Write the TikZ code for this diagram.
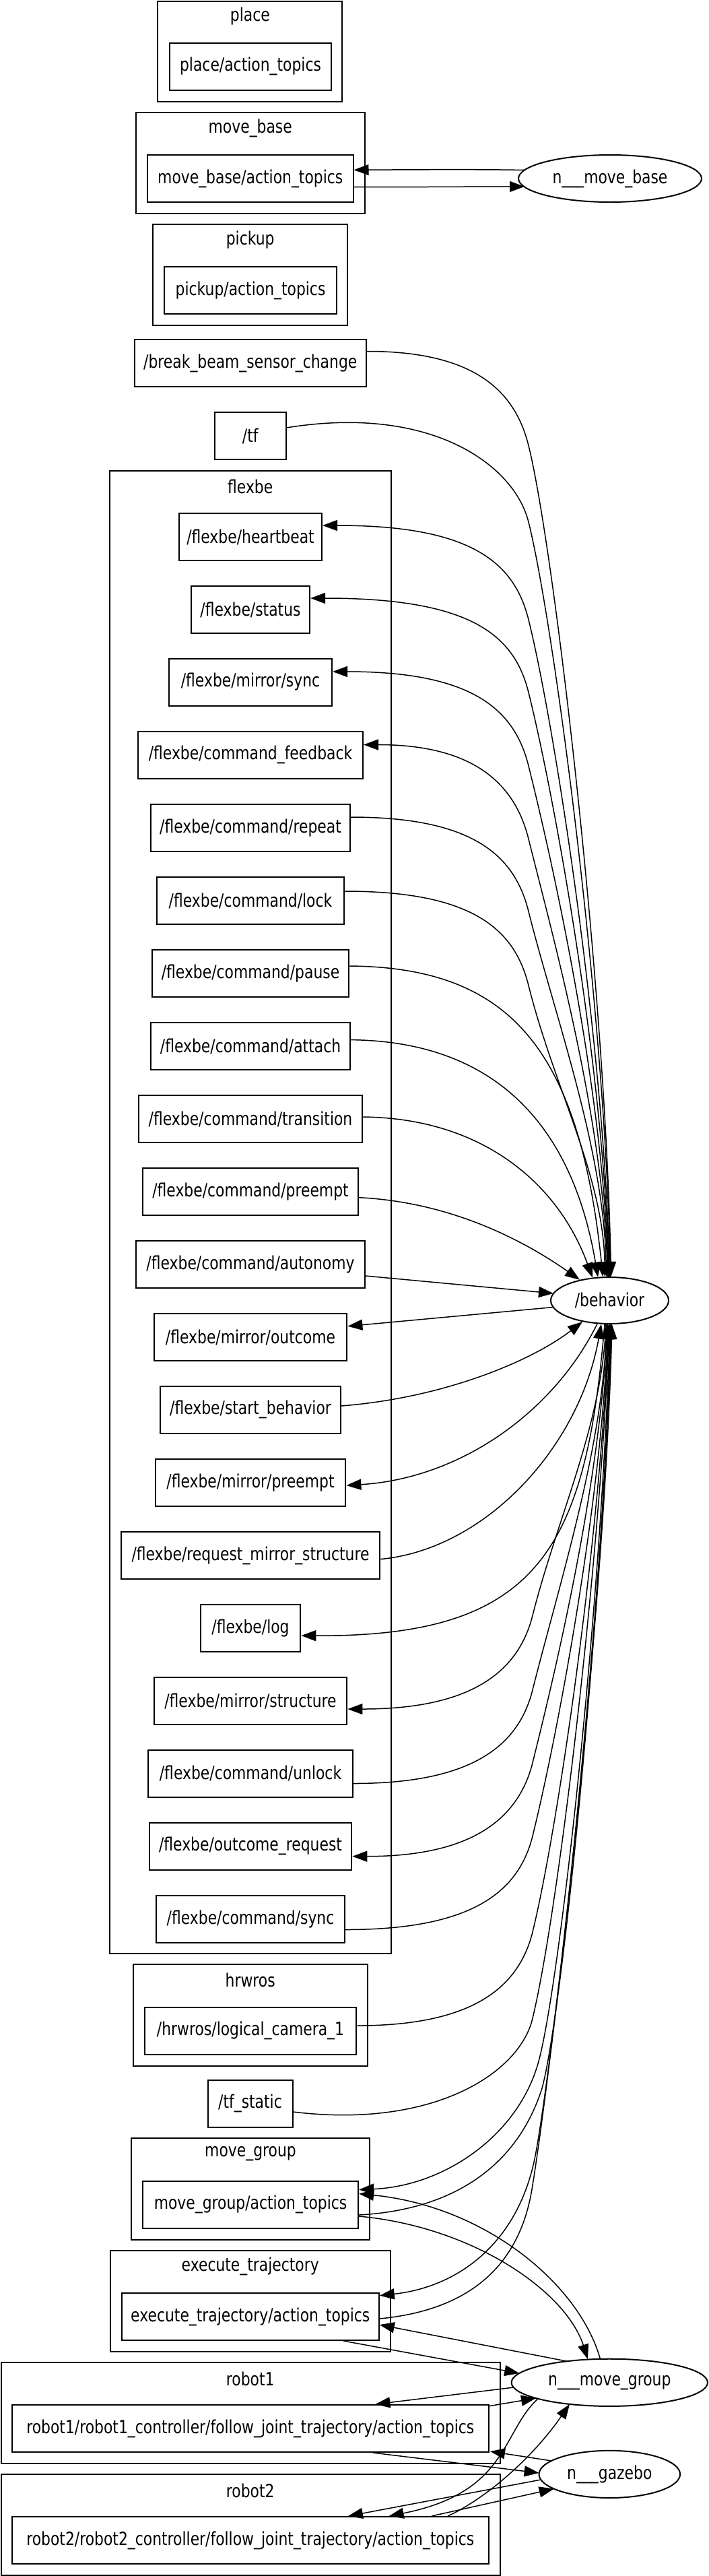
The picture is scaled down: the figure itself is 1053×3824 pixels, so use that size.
\documentclass[tikz,border=0pt]{standalone}
\usepackage{fontspec}
\setmainfont{DejaVu Sans}[FakeStretch=0.81]
\usetikzlibrary{calc,arrows.meta,shapes.geometric}
\begin{document}
\begin{tikzpicture}[x=0.5pt,y=-0.5pt,
  every node/.style={font=\fontsize{13.5pt}{16pt}\selectfont, inner sep=0pt},
  topic/.style={draw, line width=1pt, rectangle, minimum height=35pt},
  nodeel/.style={draw, line width=1pt, ellipse},
  cluster/.style={draw, line width=1pt},
  lbl/.style={},
  edge/.style={line width=0.75pt},
  >={Triangle[length=11pt,width=8pt]}]
\useasboundingbox (0,0) rectangle (1053,3824);

% ---------- clusters ----------
\draw[cluster] (234.4,1.5) rectangle (508.4,151);
\node[lbl] (placeL) at (371.4,24.5) {place};
\draw[cluster] (201.5,167) rectangle (542,317);
\node[lbl] (mbL) at (371.75,190) {move\_base};
\draw[cluster] (227,333) rectangle (516.4,483);
\node[lbl] (pkL) at (371.7,356) {pickup};
\draw[cluster] (162.7,698.6) rectangle (580.8,2900.2);
\node[lbl] (fxL) at (371.75,722) {flexbe};
\draw[cluster] (197.8,2916.3) rectangle (545.6,3066.6);
\node[lbl] (hrL) at (371.7,2939) {hrwros};
\draw[cluster] (194.9,3174.3) rectangle (549.1,3324.6);
\node[lbl] (mgL) at (372,3197.5) {move\_group};
\draw[cluster] (163.9,3341) rectangle (579.6,3491);
\node[lbl] (etL) at (371.75,3364.5) {execute\_trajectory};
\draw[cluster] (1.5,3507) rectangle (742.8,3657);
\node[lbl] (r1L) at (371.75,3531) {robot1};
\draw[cluster] (1.5,3673) rectangle (742.8,3822.5);
\node[lbl] (r2L) at (371.75,3697) {robot2};

% ---------- topic boxes ----------
\node[topic, minimum width=120pt] (pl) at (372,98.5) {place/action\_topics};
\node[topic, minimum width=152.75pt] (mb) at (371.75,265) {move\_base/action\_topics};
\node[topic, minimum width=128.1pt] (pk) at (372,431) {pickup/action\_topics};
\node[topic, minimum width=172.25pt] (bb) at (371.75,539) {/break\_beam\_sensor\_change};
\node[topic, minimum width=52.75pt] (tf) at (371.75,647) {/tf};

\node[topic, minimum width=106pt] (hb) at (372,797) {/flexbe/heartbeat};
\node[topic, minimum width=88.1pt] (st) at (372,905) {/flexbe/status};
\node[topic, minimum width=121pt] (ms) at (372,1012.5) {/flexbe/mirror/sync};
\node[topic, minimum width=167pt] (cf) at (372,1120.5) {/flexbe/command\_feedback};
\node[topic, minimum width=148pt] (rep) at (372,1229) {/flexbe/command/repeat};
\node[topic, minimum width=139.3pt] (lock) at (372,1337) {/flexbe/command/lock};
\node[topic, minimum width=146.3pt] (pause) at (372,1445) {/flexbe/command/pause};
\node[topic, minimum width=148pt] (att) at (372,1553) {/flexbe/command/attach};
\node[topic, minimum width=165.85pt] (tr) at (372,1661) {/flexbe/command/transition};
\node[topic, minimum width=160.1pt] (pre) at (372,1769) {/flexbe/command/preempt};
\node[topic, minimum width=169.9pt] (aut) at (372,1877) {/flexbe/command/autonomy};
\node[topic, minimum width=143.4pt] (mo) at (372,1985) {/flexbe/mirror/outcome};
\node[topic, minimum width=134.2pt] (sb) at (372,2092.6) {/flexbe/start\_behavior};
\node[topic, minimum width=141.4pt] (mp) at (372,2200.6) {/flexbe/mirror/preempt};
\node[topic, minimum width=192.3pt] (rms) at (372,2309) {/flexbe/request\_mirror\_structure};
\node[topic, minimum width=74.3pt] (log) at (372,2416.6) {/flexbe/log};
\node[topic, minimum width=143.4pt] (mst) at (372,2525) {/flexbe/mirror/structure};
\node[topic, minimum width=152pt] (unl) at (372,2632.7) {/flexbe/command/unlock};
\node[topic, minimum width=150.3pt] (oreq) at (372,2740.7) {/flexbe/outcome\_request};
\node[topic, minimum width=140pt] (sync) at (372,2848.7) {/flexbe/command/sync};

\node[topic, minimum width=157.25pt] (cam) at (372,3014.6) {/hrwros/logical\_camera\_1};
\node[topic, minimum width=63pt] (tfs) at (371.5,3122.5) {/tf\_static};
\node[topic, minimum width=160.1pt] (mg) at (372,3272.5) {move\_group/action\_topics};
\node[topic, minimum width=191pt] (et) at (371.75,3439) {execute\_trajectory/action\_topics};
\node[topic, minimum width=354.25pt] (r1) at (371.75,3605) {robot1/robot1\_controller/follow\_joint\_trajectory/action\_topics};
\node[topic, minimum width=354.25pt] (r2) at (371.75,3771) {robot2/robot2\_controller/follow\_joint\_trajectory/action\_topics};

% ---------- ROS nodes ----------
\node[nodeel, minimum width=136pt, minimum height=35pt] (nmb) at (906,265) {n\_\_\_move\_base};
\node[nodeel, minimum width=87.5pt, minimum height=34.5pt] (beh) at (905.5,1930.5) {/behavior};
\node[nodeel, minimum width=145.7pt, minimum height=35.1pt] (nmg) at (905.3,3536.8) {n\_\_\_move\_group};
\node[nodeel, minimum width=104.8pt, minimum height=35.1pt] (gz) at (905.3,3672.9) {n\_\_\_gazebo};

% ---------- move_base ----------
\draw[edge,->] ($(nmb.center)+(-127,-12.5)$) .. controls (700,251) and (600,252) .. ($(mb.east)+(0,-12.8)$);
\draw[edge,->] ($(mb.east)+(0,12.5)$) .. controls (600,278) and (700,277) .. ($(nmb.center)+(-127,12)$);

% ---------- fan above /behavior ----------
\draw[edge,->] ($(bb.east)+(0,-17.5)$) .. controls (700,521.5) and (764,576.5) .. (785,661.5) .. controls (822.5,811.5) and (898.9,1464) .. ($(beh.north)+(2,0)$);
\draw[edge,->] ($(tf.east)+(0,-12)$) .. controls (640,600) and (764,690) .. (785,775) .. controls (822.5,925) and (898.7,1504) .. ($(beh.north)+(1,0)$);
\draw[edge,<-] ($(hb.east)+(0,-17)$) .. controls (700,780) and (764,835) .. (785,920) .. controls (822.5,1070) and (898.7,1554) .. ($(beh.north)+(0,0)$);
\draw[edge,<-] ($(st.east)+(0,-17)$) .. controls (700,888) and (764,943) .. (785,1028) .. controls (822.5,1178) and (898.4,1592) .. ($(beh.north)+(-1,0)$);
\draw[edge,<-] ($(ms.east)+(0,-15.5)$) .. controls (700,997) and (764,1052) .. (785,1137) .. controls (822.5,1287) and (898.2,1630) .. ($(beh.north)+(-2,0)$);
\draw[edge,<-] ($(cf.east)+(0,-15)$) .. controls (700,1105.5) and (764,1160.5) .. (785,1245.5) .. controls (822.5,1395.5) and (898,1668) .. ($(beh.north)+(-3,0)$);
\draw[edge,->] ($(rep.east)+(0,-16)$) .. controls (700,1213) and (764,1268) .. (785,1353) .. controls (822.5,1503) and (896.7,1706) .. ($(beh.north)+(-5,0)$);
\draw[edge,->] ($(lock.east)+(0,-14)$) .. controls (700,1323) and (764,1378) .. (785,1463) .. controls (822.5,1613) and (895.5,1744.5) .. ($(beh.north)+(-7,0)$);
\draw[edge,->] ($(pause.east)+(0,-11)$) .. controls (760,1436) and (860,1560) .. ($(beh.north)+(-10,0.3)$);
\draw[edge,->] ($(att.east)+(0,-9.4)$) .. controls (760,1546) and (855,1700) .. ($(beh.north)+(-17.5,0.7)$);
\draw[edge,->] ($(tr.east)+(0,-3)$) .. controls (720,1660) and (830,1760) .. ($(beh.north)+(-25.5,1.5)$);
\draw[edge,->] ($(pre.east)+(0,8.7)$) .. controls (680,1785) and (790,1850) .. ($(beh.north)+(-44.5,4.8)$);
\draw[edge,->] ($(aut.east)+(0,17)$) -- ($(beh.center)+(-83.5,-10.5)$);
\draw[edge,->] ($(beh.center)+(-83.8,10)$) -- ($(mo.east)+(0,-16.3)$);

% ---------- fan below /behavior ----------
\draw[edge,->] ($(sb.east)+(0,-5.6)$) .. controls (660,2075) and (790,2020) .. ($(beh.south)+(-40.5,-3.9)$);
\draw[edge,<-] ($(mp.east)+(0,4.4)$) .. controls (680,2195) and (820,2100) .. ($(beh.south)+(-18.5,-0.8)$);
\draw[edge,->] ($(rms.east)+(0,5.5)$) .. controls (720,2300) and (860,2150) .. ($(beh.south)+(-12.5,-0.4)$);
\draw[edge,<-] ($(log.east)+(0,11.4)$) .. controls (800,2430) and (870,2300) .. ($(beh.south)+(-7.5,-0.2)$);
\draw[edge,<-] ($(mst.east)+(0,12)$) .. controls (700,2537) and (768,2482) .. (790,2402) .. controls (827.5,2252) and (893.9,2118) .. ($(beh.south)+(-5.5,0)$);
\draw[edge,->] ($(unl.east)+(0,14.8)$) .. controls (700,2647.5) and (768,2592.5) .. (790,2512.5) .. controls (827.5,2362.5) and (893.3,2156.6) .. ($(beh.south)+(-4.5,0)$);
\draw[edge,<-] ($(oreq.east)+(0,15)$) .. controls (700,2755.7) and (768,2700.7) .. (790,2620.7) .. controls (827.5,2470.7) and (892.8,2194.5) .. ($(beh.south)+(-3.5,0)$);
\draw[edge,->] ($(sync.east)+(0,15.8)$) .. controls (700,2864.5) and (768,2809.5) .. (790,2729.5) .. controls (827.5,2579.5) and (892.3,2232.6) .. ($(beh.south)+(-2.5,0)$);
\draw[edge,->] ($(cam.east)+(0,-7.6)$) .. controls (700,3007) and (768,2952) .. (790,2872) .. controls (827.5,2722) and (891.3,2282.5) .. ($(beh.south)+(-1.5,0)$);
\draw[edge,->] ($(tfs.east)+(0,12.5)$) .. controls (640,3160) and (768,3080) .. (790,3000) .. controls (827.5,2850) and (890.5,2327) .. ($(beh.south)+(-0.5,0)$);
\draw[edge,<-] ($(mg.east)+(0,-22)$) .. controls (660,3245) and (770,3170) .. (800,3060) .. controls (830,2950) and (893,2400) .. ($(beh.south)+(0.5,0)$);
\draw[edge,->] ($(mg.east)+(0,15.5)$) .. controls (680,3280) and (770,3210) .. (805,3100) .. controls (835,2990) and (894,2400) .. ($(beh.south)+(1.5,0)$);
\draw[edge,<-] ($(et.east)+(0,-31.3)$) .. controls (680,3395) and (770,3330) .. (795,3200) .. controls (820,3070) and (895,2420) .. ($(beh.south)+(2.5,0)$);
\draw[edge,->] ($(et.east)+(0,3)$) .. controls (690,3430) and (770,3370) .. (790,3250) .. controls (815,3100) and (896,2430) .. ($(beh.south)+(3.5,0)$);

% ---------- n___move_group ----------
\draw[edge,->] ($(mg.east)+(0,17.5)$) .. controls (700,3305) and (840,3400) .. ($(nmg.center)+(-32.3,-34.7)$);
\draw[edge,->] ($(nmg.center)+(-13.8,-34.9)$) .. controls (860,3390) and (720,3275) .. ($(mg.east)+(0,-16)$);
\draw[edge,->] ($(et.south)+(138.5,0)$) -- ($(nmg.center)+(-134,-13.8)$);
\draw[edge,->] ($(nmg.center)+(-63.3,-31.6)$) -- ($(et.east)+(0,12)$);
\draw[edge,->] ($(nmg.center)+(-142.6,7.2)$) -- ($(r1.north)+(185.7,0)$);
\draw[edge,->] ($(r1.north east)+(0,2.6)$) -- ($(nmg.center)+(-109.3,23.2)$);
\draw[edge,->] ($(nmg.center)+(-106.3,24)$) .. controls (745,3610) and (755,3700) .. ($(r2.north)+(205.9,0)$);
\draw[edge,->] ($(r2.north)+(293.3,0)$) .. controls (720,3710) and (790,3650) .. ($(nmg.center)+(-59.3,32.1)$);

% ---------- n___gazebo ----------
\draw[edge,->] ($(gz.center)+(-86.3,-19.9)$) -- ($(r1.south east)+(1,-2)$);
\draw[edge,->] ($(r1.south)+(182.25,0)$) -- ($(gz.center)+(-104.7,-1.9)$);
\draw[edge,->] ($(gz.center)+(-102,8.1)$) -- ($(r2.north)+(145.25,0)$);
\draw[edge,->] ($(r2.north)+(269.25,0)$) -- ($(gz.center)+(-82.6,21.6)$);
\end{tikzpicture}
\end{document}
